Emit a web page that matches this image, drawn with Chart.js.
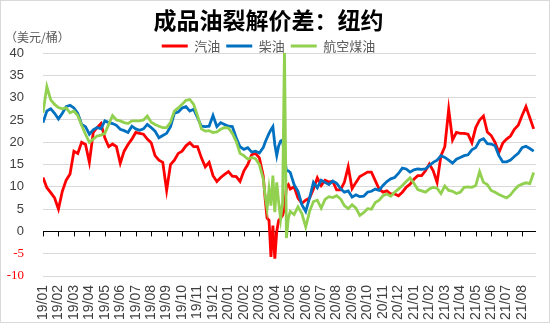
<!DOCTYPE html>
<html>
<head>
<meta charset="utf-8">
<script src="https://cdn.jsdelivr.net/npm/chart.js@4.4.1/dist/chart.umd.min.js"></script>
<style>
  html, body { margin: 0; padding: 0; background: #fff; }
  #wrap { position: relative; width: 550px; height: 323px; box-sizing: border-box; border: 1px solid #d9d9d9; }
</style>
</head>
<body>
<div id="wrap"><canvas id="c"></canvas></div>
<script>
// 横轴：自 2019/01 起的月数（约每周一个点，2020/03-04 加密）
const xs = [
  0, 0.25, 0.5, 0.75,   1, 1.25, 1.5, 1.75,   2, 2.25, 2.5, 2.75,   3, 3.25, 3.5, 3.75,
  4, 4.25, 4.5, 4.75,   5, 5.25, 5.5, 5.75,   6, 6.25, 6.5, 6.75,   7, 7.25, 7.5, 7.75,
  8, 8.25, 8.5, 8.75,   9, 9.25, 9.5, 9.75,   10, 10.25, 10.5, 10.75,   11, 11.25, 11.5, 11.75,
  12, 12.25, 12.5, 12.75,   13, 13.25, 13.5, 13.75,
  14, 14.25, 14.375, 14.5, 14.625, 14.75, 14.875,
  15, 15.125, 15.25, 15.375, 15.5, 15.625, 15.75, 15.875,
  16, 16.25, 16.5, 16.75,   17, 17.25, 17.5, 17.75,   18, 18.25, 18.5, 18.75,   19, 19.25, 19.5, 19.75,
  20, 20.25, 20.5, 20.75,   21, 21.25, 21.5, 21.75,   22, 22.25, 22.5, 22.75,   23, 23.25, 23.5, 23.75,
  24, 24.25, 24.5, 24.75,   25, 25.25, 25.5, 25.75,   26, 26.25, 26.5, 26.75,   27, 27.25, 27.5, 27.75,
  28, 28.25, 28.5, 28.75,   29, 29.25, 29.5, 29.75,   30, 30.25, 30.5, 30.75,   31, 31.25, 31.5, 31.75,
];

// 汽油
const gasoline = [
  12.1, 9.8, 8.7, 7.5,   5.0, 9.0, 11.5, 12.9,   18.0, 17.5, 20.0, 19.5,   15.5, 22.2, 23.3, 24.2,
  21.0, 19.0, 19.6, 19.0,   15.3, 18.0, 19.5, 20.7,   22.2, 22.0, 21.8, 20.7,   19.9, 17.0, 16.0, 15.5,
  9.2, 15.0, 16.0, 17.5,   18.0, 19.2, 19.9, 19.0,   19.0, 16.5, 14.5, 15.5,   12.5, 11.2, 12.1, 12.8,
  13.4, 12.4, 12.3, 11.2,   13.6, 15.0, 17.2, 17.5,
  16.5, 12.5, 7.3, 3.0, 2.5, -5.7, 1.3,
  -6.1, 0.0, 2.5, 3.0, 3.6, 5.0, 10.0, 10.5,
  9.5, 10.0, 7.5, 6.3,   7.0, 7.5, 9.5, 12.0,   10.3, 11.5, 11.1, 11.2,   9.3, 9.3, 11.0, 14.5,
  9.6, 11.0, 12.3, 12.8,   13.3, 13.3, 11.4, 9.5,   8.8, 9.1, 8.4, 8.4,   8.0, 8.8, 9.9, 10.6,
  11.7, 12.5, 12.5, 13.6,   15.1, 13.6, 11.0, 17.0,   19.0, 27.4, 20.5, 22.2,   22.0, 22.0, 21.8, 19.9,
  23.3, 25.0, 25.9, 22.3,   21.5, 20.0, 17.7, 19.8,   20.7, 21.4, 22.9, 23.8,   26.0, 28.0, 25.5, 23.0,
];

// 柴油
const diesel = [
  24.4, 27.0, 27.5, 26.5,   25.2, 26.5, 28.0, 28.3,   27.7, 26.5, 24.0, 23.5,   21.8, 22.8, 23.3, 23.0,
  24.8, 24.4, 24.2, 23.8,   22.9, 22.6, 22.2, 23.6,   23.0, 22.7, 23.0, 24.0,   23.3, 22.5, 21.0, 21.5,
  22.0, 23.5, 26.5, 26.8,   27.7, 28.0, 27.0, 27.4,   25.5, 23.6, 23.5, 23.6,   26.0, 23.5, 24.4, 24.0,
  23.6, 23.5, 21.0, 19.0,   18.4, 18.8, 17.8, 18.0,
  17.6, 18.8, 20.0, 21.0, 22.0, 22.8, 23.5,
  19.5, 17.0, 19.2, 20.3, 20.5, 17.0, 13.6, 13.6,
  13.2, 10.5, 9.0, 6.0,   4.5, 7.5, 11.0, 9.8,   11.5, 11.0, 10.5, 11.3,   10.8, 9.6, 8.8, 9.1,
  7.7, 8.2, 7.8, 7.9,   8.8, 9.0, 9.5, 9.2,   10.3, 11.2, 11.8, 12.1,   13.0, 14.2, 14.0, 13.3,
  13.8, 14.0, 13.9, 14.0,   14.8, 15.5, 16.0, 17.0,   16.6, 16.0, 15.3, 16.2,   16.6, 17.0, 17.2, 18.3,
  18.8, 20.4, 20.8, 19.7,   19.6, 19.2, 17.0, 15.6,   15.6, 16.0, 16.8, 17.5,   18.8, 19.1, 18.6, 18.0,
];

// 航空煤油
const jetFuel = [
  26.6, 32.5, 29.5, 28.5,   27.8, 27.5, 27.7, 26.6,   27.0, 26.0, 23.8, 21.8,   20.0, 20.7, 21.4, 21.6,
  22.0, 24.0, 26.0, 25.0,   24.8, 24.4, 24.2, 24.8,   24.8, 24.8, 25.0, 25.9,   24.5, 24.0, 23.6, 23.3,
  23.3, 24.5, 27.0, 27.7,   28.5, 29.4, 29.6, 28.5,   25.9, 23.0, 22.5, 22.6,   22.2, 22.3, 22.9, 23.3,
  23.2, 22.0, 20.2, 17.5,   17.0, 16.2, 16.6, 16.3,
  15.0, 11.8, 8.0, 5.1, 9.5, 5.8, 12.5,
  4.3, 11.0, 6.5, 2.8, 6.5, 41.0, -1.5, 3.0,
  4.5, 3.8, 5.5, 4.0,   1.0, 4.5, 6.7, 7.0,   5.2, 7.2, 7.8, 7.6,   8.0, 7.3, 5.8, 5.1,
  6.0, 5.2, 3.6, 4.2,   5.1, 5.0, 6.5, 7.0,   8.0, 8.4, 7.9, 8.8,   9.5, 10.3, 11.2, 12.0,
  10.8, 9.4, 9.1, 8.8,   9.5, 9.9, 9.7, 8.5,   10.2, 9.2, 9.0, 8.5,   8.8, 9.9, 10.0, 9.9,
  10.3, 13.4, 11.0, 10.5,   9.2, 8.8, 8.3, 7.9,   7.5, 8.2, 9.3, 10.2,   10.6, 10.9, 10.7, 13.2,
];

const monthLabels = [
  '19/01', '19/02', '19/03', '19/04', '19/05', '19/06', '19/07', '19/08', '19/09', '19/10', '19/11', '19/12',
  '20/01', '20/02', '20/03', '20/04', '20/05', '20/06', '20/07', '20/08', '20/09', '20/10', '20/11', '20/12',
  '21/01', '21/02', '21/03', '21/04', '21/05', '21/06', '21/07', '21/08',
];

const cjk = '"Noto Sans CJK SC", sans-serif';
const sans = '"Liberation Sans", Arial, sans-serif';
const serif = '"Liberation Serif", serif';

const pts = (vals) => xs.map((x, i) => ({ x, y: vals[i] }));

// 单位文字 + 零轴刻度线
const extras = {
  id: 'extras',
  beforeDatasetsDraw(chart) {
    const { ctx, scales: { x, y } } = chart;
    const y0 = y.getPixelForValue(0);
    ctx.save();
    ctx.strokeStyle = '#000';
    ctx.lineWidth = 1;
    ctx.beginPath();
    x.ticks.forEach((t) => {
      const px = Math.round(x.getPixelForValue(t.value)) + 0.5;
      ctx.moveTo(px, y0);
      ctx.lineTo(px, y0 + 5);
    });
    ctx.stroke();
    ctx.restore();
  },
  afterDraw(chart) {
    const { ctx } = chart;
    ctx.save();
    ctx.font = '12px ' + cjk;
    ctx.fillStyle = '#595959';
    ctx.textBaseline = 'middle';
    ctx.fillText('（美元/桶）', 4, 36);
    ctx.restore();
  },
};

new Chart(document.getElementById('c'), {
  type: 'line',
  data: {
    datasets: [
      { label: '汽油', data: pts(gasoline), borderColor: '#FF0000', backgroundColor: '#FF0000', order: 3 },
      { label: '柴油', data: pts(diesel), borderColor: '#0070C0', backgroundColor: '#0070C0', order: 2 },
      { label: '航空煤油', data: pts(jetFuel), borderColor: '#92D050', backgroundColor: '#92D050', order: 1 },
    ],
  },
  options: {
    responsive: true,
    maintainAspectRatio: false,
    animation: false,
    elements: {
      line: { borderWidth: 2.8, tension: 0 },
      point: { radius: 0 },
    },
    layout: { padding: { left: 0, right: 13, top: 0, bottom: 0 } },
    plugins: {
      title: {
        display: true,
        text: '成品油裂解价差：纽约',
        color: '#000',
        font: { family: cjk, size: 23, weight: 'bold' },
        padding: { top: 5, bottom: 0 },
      },
      legend: {
        position: 'top',
        maxHeight: 19.5,
        labels: {
          boxWidth: 26,
          boxHeight: 3,
          padding: 6,
          color: '#595959',
          font: { family: cjk, size: 13 },
          generateLabels: (chart) =>
            Chart.defaults.plugins.legend.labels.generateLabels(chart)
              .map((l) => ({ ...l, lineWidth: 0 }))
              .sort((a, b) => a.datasetIndex - b.datasetIndex),
        },
      },
      tooltip: { enabled: false },
    },
    scales: {
      x: {
        type: 'linear',
        min: 0,
        max: 31.9,
        afterBuildTicks: (s) => { s.ticks = monthLabels.map((_, i) => ({ value: i })); },
        afterFit: (s) => { s.height = 46; },
        ticks: {
          autoSkip: false,
          minRotation: 90,
          maxRotation: 90,
          padding: 9,
          color: '#404040',
          font: { family: sans, size: 14 },
          callback: (v) => monthLabels[v],
        },
        grid: { display: false, drawTicks: false },
        border: { display: false },
      },
      y: {
        min: -10,
        max: 40,
        afterFit: (s) => { s.width = 42; },
        ticks: {
          stepSize: 5,
          padding: 19,
          color: (c) => (c.tick.value < 0 ? '#FF0000' : '#404040'),
          font: (c) => ({ family: c.tick && c.tick.value < 0 ? serif : sans, size: 13 }),
        },
        grid: {
          color: (c) => (c.tick.value === 0 ? '#000000' : '#D9D9D9'),
          drawTicks: false,
        },
        border: { display: false },
      },
    },
  },
  plugins: [extras],
});
</script>
</body>
</html>
